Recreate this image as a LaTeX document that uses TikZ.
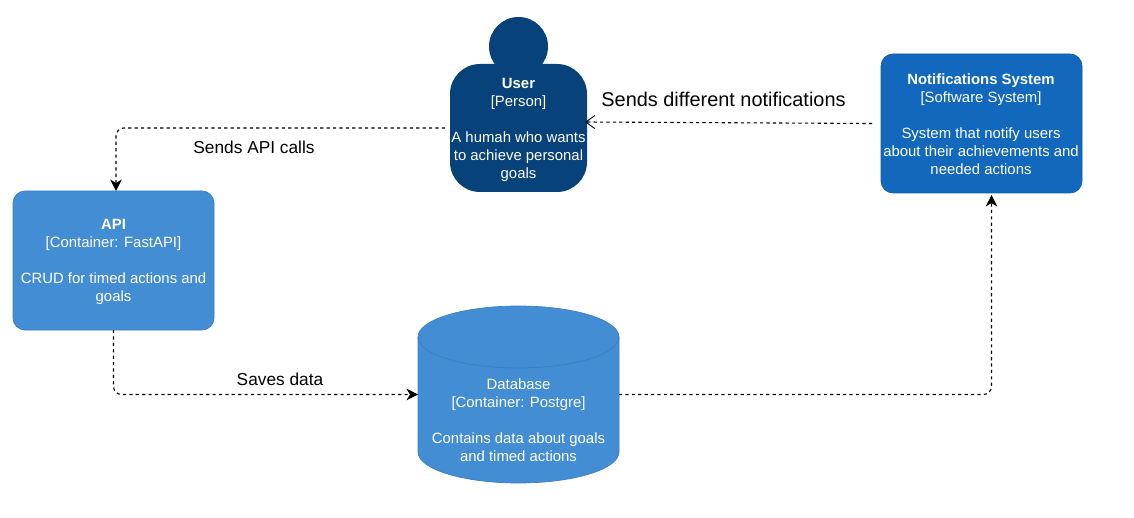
\documentclass[tikz,border=0pt]{standalone}
\usepackage{fontspec}
\setmainfont{Liberation Sans}
\usetikzlibrary{arrows.meta,calc,positioning}
\definecolor{persondark}{HTML}{08427B}
\definecolor{sysblue}{HTML}{1168BD}
\definecolor{contblue}{HTML}{438DD5}
\definecolor{contedge}{HTML}{3C7FC0}
\definecolor{sysedge}{HTML}{0F5EAA}
\tikzset{
  x=1pt,y=-1pt,
  every node/.style={inner sep=0pt,outer sep=0pt},
  bodytext/.style={text=white,align=center,font=\fontsize{14.9}{18}\selectfont},
  boxed/.style={rounded corners=12pt,minimum width=201pt,minimum height=139pt,draw,line width=0.7pt},
  contbox/.style={boxed,fill=contblue,draw=contedge},
  sysbox/.style={boxed,fill=sysblue,draw=sysedge},
  flow/.style={draw=black,line width=1.1pt,dash pattern=on 3.2pt off 3.2pt,rounded corners=8pt},
  solidtip/.style={-{Stealth[length=11.5pt,width=11.5pt,inset=3.5pt]}},
  opentip/.style={-{Straight Barb[length=9pt,width=13pt,line width=0.9pt]}},
  flowlabel/.style={text=black,font=\fontsize{17.3}{20}\selectfont},
  bigflowlabel/.style={text=black,font=\fontsize{19.9}{22}\selectfont},
}
\begin{document}
\begin{tikzpicture}
\useasboundingbox (0,0) rectangle (1134,518);
\fill[white] (0,0) rectangle (1134,518);
% person
\fill[persondark] (518.5,46.5) circle[radius=29.5pt];
\node[rounded corners=30pt,minimum width=137pt,minimum height=128pt,fill=persondark] (user) at (518.5,128) {};
\node[bodytext] (usertext) at (518.5,130) {\textbf{User}\\{}[Person]\\[18pt]A humah who wants\\to achieve personal\\goals};
% API
\node[contbox] (api) at (113.5,260.5) {};
\node[bodytext] (apitext) at (113.5,261.5) {\textbf{API}\\{}[Container: FastAPI]\\[18pt]CRUD for timed actions and\\goals};
% notifications
\node[sysbox] (notif) at (981.5,123.5) {};
\node[bodytext] (notiftext) at (981,124) {\textbf{Notifications System}\\{}[Software System]\\[18pt]System that notify users\\about their achievements and\\needed actions};
% database
\node[minimum width=201pt,minimum height=177pt] (db) at (518.5,394.5) {};
\filldraw[fill=contblue,draw=contedge,line width=0.7pt]
  ($(db.north west)+(0,31)$) arc[x radius=100.5pt,y radius=31pt,start angle=180,end angle=0]
  -- ($(db.south east)+(0,-31)$) arc[x radius=100.5pt,y radius=31pt,start angle=0,end angle=-180]
  -- cycle;
\draw[contedge,line width=0.7pt] ($(db.north west)+(0,31)$) arc[x radius=100.5pt,y radius=31pt,start angle=180,end angle=360];
\node[bodytext] (dbtext) at (518.5,420) {Database\\{}[Container: Postgre]\\[18pt]Contains data about goals\\and timed actions};
% connector ends
\coordinate (userleft) at ($(user.west)+(-5,0)$);
\coordinate (apitop) at ($(api.north)+(2.5,0)$);
\coordinate (apibottom) at (api.south);
\coordinate (dbleft) at (db.west);
\coordinate (dbright) at (db.east);
\coordinate (notifbelow) at ($(notif.south)+(10,2)$);
\coordinate (notifleft) at ($(notif.west)+(-9,0)$);
\coordinate (userright) at ($(user.east)+(-2,-6)$);
% connectors
\draw[flow,solidtip] (userleft) -| (apitop);
\draw[flow,solidtip] (apibottom) |- (dbleft);
\draw[flow,solidtip] (dbright) -| (notifbelow);
\draw[flow,opentip] (notifleft) -- (userright);
% labels
\node[flowlabel] (l1) at (254,147.5) {Sends API calls};
\node[flowlabel] (l2) at (280,379) {Saves data};
\node[bigflowlabel] (l3) at (723.5,99) {Sends different notifications};
\end{tikzpicture}
\end{document}
